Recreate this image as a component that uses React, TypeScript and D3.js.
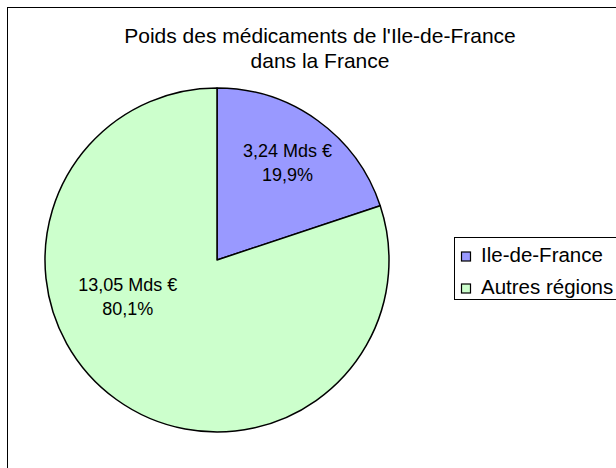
import React, { useRef, useEffect } from "react";
import * as d3 from "d3";

const regions = ["Ile-de-France", "Autres régions"];
const amounts = [3.24, 13.05];
const amountLabels = ["3,24 Mds €", "13,05 Mds €"];
const shareLabels = ["19,9%", "80,1%"];
const colors = ["#9999ff", "#ccffcc"];
const titleLines = ["Poids des médicaments de l'Ile-de-France", "dans la France"];

// label placement per slice: fraction of radius, angle shift (rad)
const labelPlacement = [
  { rFrac: 0.7, dAngle: 0 },
  { rFrac: 0.56, dAngle: 0.56 },
];

export default function App() {
  const svgRef = useRef<SVGSVGElement>(null);

  useEffect(() => {
    const width = 616;
    const height = 468;
    const svg = d3.select(svgRef.current);
    svg.selectAll("*").remove();
    svg.attr("width", width).attr("height", height);

    const font = "'Liberation Sans', Arial, sans-serif";

    svg.append("rect")
      .attr("width", width).attr("height", height).attr("fill", "#fff");

    // chart frame (cut off on the right and bottom)
    svg.append("rect")
      .attr("x", 7.5).attr("y", 7.5)
      .attr("width", width + 20).attr("height", height + 20)
      .attr("fill", "none").attr("stroke", "#000").attr("stroke-width", 1);

    svg.append("g")
      .selectAll("text")
      .data(titleLines)
      .join("text")
      .attr("x", 320)
      .attr("y", (d, i) => 43 + i * 25)
      .attr("text-anchor", "middle")
      .attr("font-family", font)
      .attr("font-size", 21)
      .attr("fill", "#000")
      .text(d => d);

    const cx = 217, cy = 260, r = 172;
    const pie = d3.pie<number>().sort(null).value(d => d);
    const arcs = pie(amounts);
    const arc = d3.arc<d3.PieArcDatum<number>>().innerRadius(0).outerRadius(r);

    const g = svg.append("g").attr("transform", `translate(${cx},${cy})`);
    g.selectAll("path")
      .data(arcs)
      .join("path")
      .attr("d", arc)
      .attr("fill", (d, i) => colors[i])
      .attr("stroke", "#000")
      .attr("stroke-width", 1.5)
      .attr("stroke-linejoin", "round");

    const labels = g.selectAll("g.lbl")
      .data(arcs)
      .join("g")
      .attr("class", "lbl")
      .attr("transform", (d, i) => {
        const p = labelPlacement[i];
        const a = (d.startAngle + d.endAngle) / 2 + p.dAngle;
        return `translate(${d3.pointRadial(a, r * p.rFrac)})`;
      });
    labels.append("text")
      .attr("y", -5)
      .attr("text-anchor", "middle")
      .attr("font-family", font)
      .attr("font-size", 18)
      .text((d, i) => amountLabels[i]);
    labels.append("text")
      .attr("y", 19)
      .attr("text-anchor", "middle")
      .attr("font-family", font)
      .attr("font-size", 18)
      .text((d, i) => shareLabels[i]);

    // legend
    const legend = svg.append("g").attr("transform", "translate(454,237)");
    legend.append("rect")
      .attr("x", 0.5).attr("y", 0.5)
      .attr("width", 200).attr("height", 62)
      .attr("fill", "#fff").attr("stroke", "#000");
    const items = legend.selectAll("g.item")
      .data(regions)
      .join("g")
      .attr("class", "item")
      .attr("transform", (d, i) => `translate(7,${19 + i * 32})`);
    items.append("rect")
      .attr("x", 0.5).attr("y", -4)
      .attr("width", 9).attr("height", 9)
      .attr("fill", (d, i) => colors[i])
      .attr("stroke", "#000").attr("stroke-width", 1.2);
    items.append("text")
      .attr("x", 20).attr("y", 6)
      .attr("font-family", font)
      .attr("font-size", 20.5)
      .text(d => d);
  }, []);

  return <svg ref={svgRef} style={{ position: "absolute", left: 0, top: 0 }} />;
}
